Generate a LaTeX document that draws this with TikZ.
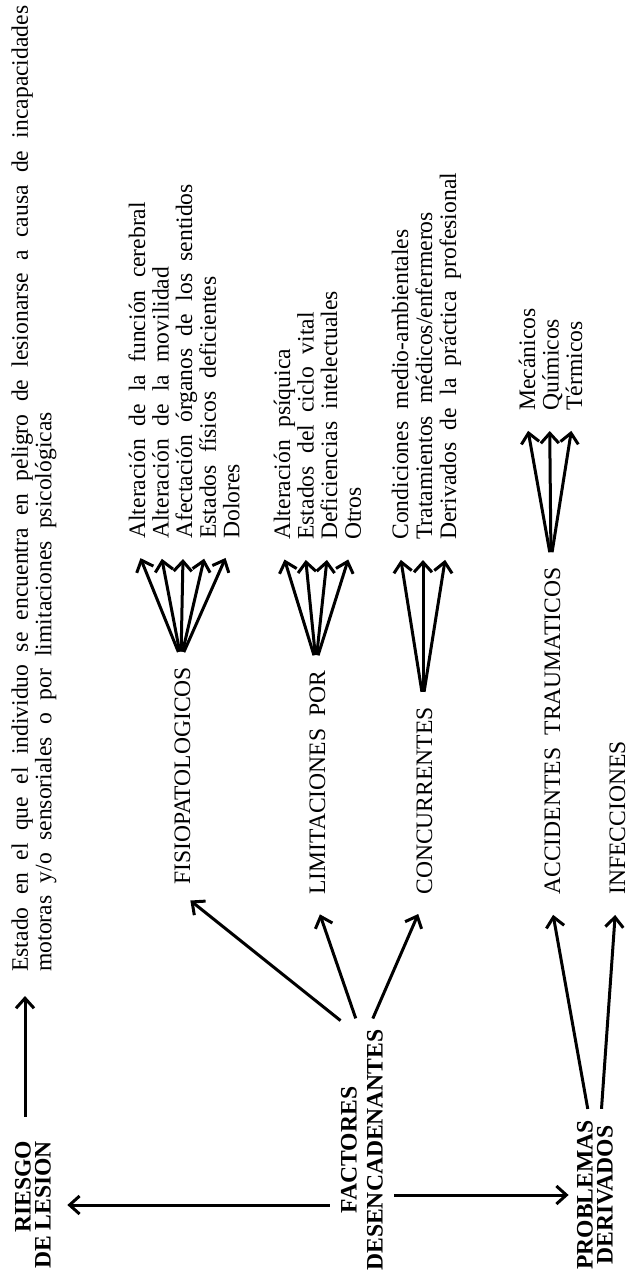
\documentclass[tikz,border=0pt]{standalone}
\usepackage{fontspec}
\setmainfont{Liberation Serif}
\usepackage{tikz}
\usetikzlibrary{arrows.meta}

\newcommand{\diagfont}{\fontsize{11.8}{11.8}\selectfont\spaceskip=6.2pt plus 1pt minus 1pt\relax}
\newcommand{\headfont}{\bfseries\fontsize{11.8}{10}\selectfont}

\begin{document}
\begin{tikzpicture}[
    x=0.5pt, y=-0.5pt,
    entry/.style={rotate=90, anchor=base west, font=\diagfont, inner xsep=4pt, inner ysep=1pt, text height=0.9em, text depth=0pt},
    head/.style={rotate=90, font=\headfont, inner sep=2pt},
    arrow/.style={-{Straight Barb[length=5pt, width=9pt]}, line width=1.5pt, shorten >=6pt, shorten <=3.5pt}
]
    \useasboundingbox (0,0) rectangle (630,1275);

    % main blocks
    \node[head, align=right] (riesgo) at (33,1205) {RIESGO\\DE LESION};
    \node[head, align=center] (fac) at (362,1150) {FACTORES\\[3pt]DESENCADENANTES};
    \node[head, align=center] (prob) at (595,1195) {PROBLEMAS\\DERIVADOS};

    \node[rotate=90, anchor=north west, font=\diagfont, align=left, inner sep=0pt] (defin) at (11,972)
        {Estado en el que el individuo se encuentra en peligro de lesionarse a causa de incapacidades\\
         motoras y/o sensoriales o por limitaciones psicológicas};

    \node[entry] (fisio) at (190,893) {FISIOPATOLOGICOS};
    \node[entry] (limit) at (325,903) {LIMITACIONES POR};
    \node[entry] (conc) at (432,903) {CONCURRENTES};
    \node[entry] (acc) at (560,903) {ACCIDENTES TRAUMATICOS};
    \node[entry] (infec) at (625,903) {INFECCIONES};

    % lists
    \node[entry] (f1) at (145,547) {Alteración de la función cerebral};
    \node[entry] (f2) at (168.6,547) {Alteración de la movilidad};
    \node[entry] (f3) at (192.2,547) {Afectación órganos de los sentidos};
    \node[entry] (f4) at (215.8,547) {Estados físicos deficientes};
    \node[entry] (f5) at (239.4,547) {Dolores};

    \node[entry] (l1) at (290,548) {Alteración psíquica};
    \node[entry] (l2) at (313.6,548) {Estados del ciclo vital};
    \node[entry] (l3) at (337.2,548) {Deficiencias intelectuales};
    \node[entry] (l4) at (360.8,548) {Otros};

    \node[entry] (c1) at (408,548) {Condiciones medio-ambientales};
    \node[entry] (c2) at (432,548) {Tratamientos médicos/enfermeros};
    \node[entry] (c3) at (456,548) {Derivados de la práctica profesional};

    \node[entry] (a1) at (535,419) {Mecánicos};
    \node[entry] (a2) at (558.6,419) {Químicos};
    \node[entry] (a3) at (582.2,419) {Térmicos};

    % connectors
    \draw[arrow, shorten <=10pt, shorten >=12pt] ([xshift=-4pt]riesgo.east) -- ([xshift=-4pt]riesgo.east |- defin.west);
    \draw[arrow] (fac.north |- riesgo.south) -- (riesgo.south);
    \draw[arrow, shorten >=2pt] (fac.south |- prob.north) -- (prob.north);

    \draw[arrow] ([xshift=-8pt]fac.east) -- (fisio.west);
    \draw[arrow] ([xshift=-2pt]fac.east) -- (limit.west);
    \draw[arrow] ([xshift=4pt]fac.east) -- (conc.west);

    \draw[arrow] ([xshift=-3pt]prob.east) -- (acc.west);
    \draw[arrow] ([xshift=3pt]prob.east) -- (infec.west);

    \draw[arrow] (fisio.east) -- (f1.west);
    \draw[arrow] (fisio.east) -- (f2.west);
    \draw[arrow] (fisio.east) -- (f3.west);
    \draw[arrow] (fisio.east) -- (f4.west);
    \draw[arrow] (fisio.east) -- (f5.west);

    \draw[arrow] (limit.east) -- (l1.west);
    \draw[arrow] (limit.east) -- (l2.west);
    \draw[arrow] (limit.east) -- (l3.west);
    \draw[arrow] (limit.east) -- (l4.west);

    \draw[arrow] (conc.east) -- (c1.west);
    \draw[arrow] (conc.east) -- (c2.west);
    \draw[arrow] (conc.east) -- (c3.west);

    \draw[arrow] (acc.east) -- (a1.west);
    \draw[arrow] (acc.east) -- (a2.west);
    \draw[arrow] (acc.east) -- (a3.west);
\end{tikzpicture}
\end{document}
